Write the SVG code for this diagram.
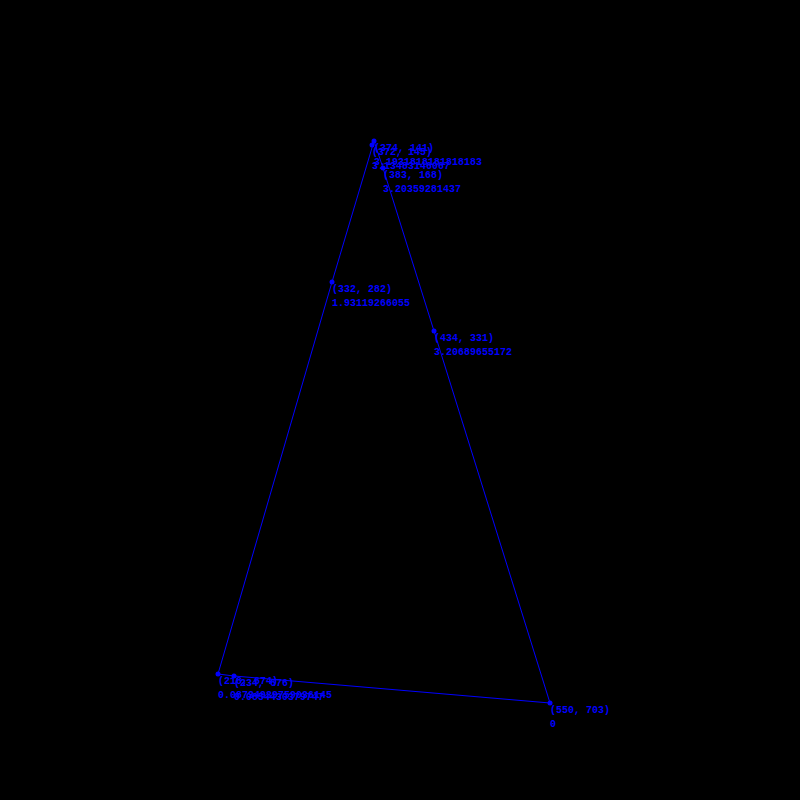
<svg xmlns="http://www.w3.org/2000/svg" width="800" height="800" viewBox="0 0 800 800">
<style>
.edge{fill:none;stroke:#0000ff;stroke-width:1}
.dot{fill:#0000ff}
text{font-family:"Liberation Mono","DejaVu Sans Mono",monospace;font-size:10px;font-weight:bold;fill:#0000ff}
</style>
<rect width="800" height="800" fill="#000000"/>
<g id="connectors">
<polygon class="edge" points="550,703 434,331 383,168 374,141 332,282 218,674 234,676"/>
</g>
<g id="p-550-703"><circle class="dot" cx="550" cy="703" r="2.5"/><text x="550" y="713">(550, 703)</text><text x="550" y="727">0</text></g>
<g id="p-374-141"><circle class="dot" cx="374" cy="141" r="2.5"/><text x="374" y="151">(374, 141)</text><text x="374" y="165">3.1931818181818183</text></g>
<g id="p-372-145"><circle class="dot" cx="372" cy="145" r="2.5"/><text x="372" y="155">(372, 145)</text><text x="372" y="169">3.13483146067</text></g>
<g id="p-383-168"><circle class="dot" cx="383" cy="168" r="2.5"/><text x="383" y="178">(383, 168)</text><text x="383" y="192">3.20359281437</text></g>
<g id="p-434-331"><circle class="dot" cx="434" cy="331" r="2.5"/><text x="434" y="341">(434, 331)</text><text x="434" y="355">3.20689655172</text></g>
<g id="p-332-282"><circle class="dot" cx="332" cy="282" r="2.5"/><text x="332" y="292">(332, 282)</text><text x="332" y="306">1.93119266055</text></g>
<g id="p-218-674"><circle class="dot" cx="218" cy="674" r="2.5"/><text x="218" y="684">(218, 674)</text><text x="218" y="698">0.08734939759036145</text></g>
<g id="p-234-676"><circle class="dot" cx="234" cy="676" r="2.5"/><text x="234" y="686">(234, 676)</text><text x="234" y="700">0.0854430379747</text></g>
</svg>
